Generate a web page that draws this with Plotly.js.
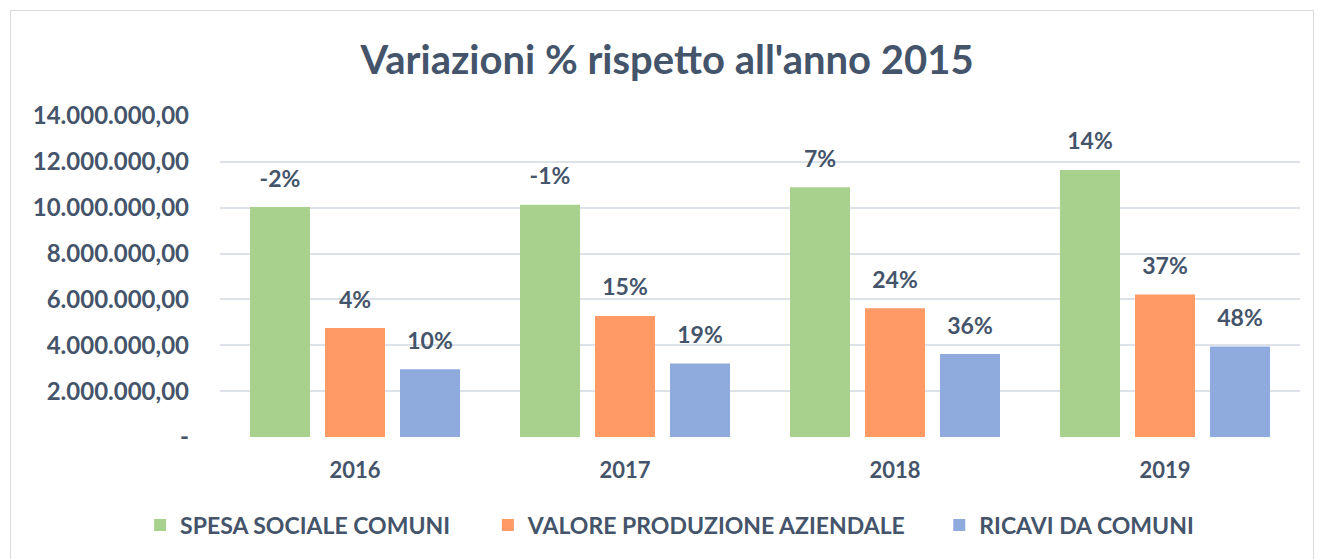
<!DOCTYPE html>
<html>
<head>
<meta charset="utf-8">
<script src="https://cdn.plot.ly/plotly-3.0.1.min.js"></script>
<style>
  html, body { margin: 0; padding: 0; background: #ffffff; }
  #wrap { position: relative; width: 1321px; height: 559px; }
  #chart { position: absolute; left: 0; top: 0; width: 1321px; height: 559px; }
  #frame { position: absolute; left: 10px; top: 10px; width: 1304px; height: 560px;
           border: 1px solid #D9D9D9; pointer-events: none; box-sizing: border-box; }
</style>
</head>
<body>
<div id="wrap">
  <div id="chart"></div>
  <div id="frame"></div>
</div>
<script>
// ---- data ----
const years = ['2016', '2017', '2018', '2019'];
const seriesNames = ['SPESA SOCIALE COMUNI', 'VALORE PRODUZIONE AZIENDALE', 'RICAVI DA COMUNI'];
const spesaSociale = [10030000, 10130000, 10890000, 11650000];
const valoreProduzione = [4750000, 5280000, 5620000, 6210000];
const ricaviComuni = [2960000, 3210000, 3620000, 3950000];
const spesaLabels = ['-2%', '-1%', '7%', '14%'];
const valoreLabels = ['4%', '15%', '24%', '37%'];
const ricaviLabels = ['10%', '19%', '36%', '48%'];
const yTickVals = [0, 2000000, 4000000, 6000000, 8000000, 10000000, 12000000, 14000000];
const yTickText = ['-', '2.000.000,00', '4.000.000,00', '6.000.000,00', '8.000.000,00', '10.000.000,00', '12.000.000,00', '14.000.000,00'];

// ---- style ----
const textColor = '#44546A';
const colors = ['#A9D18E', '#FF9966', '#8FAADC'];
const FONT = 'Lato, "Open Sans", sans-serif';
const GAP = 0.1667;

function barTrace(name, values, color, legendId, grp) {
  return {
    type: 'bar',
    name: name,
    legend: legendId,
    offsetgroup: grp,
    x: years,
    y: values,
    marker: { color: color, line: { width: 0 } },
    hoverinfo: 'x+y+name'
  };
}

function labelTrace(values, labels, grp) {
  return {
    type: 'scatter',
    mode: 'markers+text',
    offsetgroup: grp,
    x: years,
    y: values,
    text: labels,
    textposition: 'top center',
    cliponaxis: false,
    textfont: { family: FONT, size: 23, color: textColor, weight: 'bold' },
    marker: { size: 22, opacity: 0 },
    showlegend: false,
    hoverinfo: 'skip'
  };
}

const data = [
  barTrace(seriesNames[0], spesaSociale, colors[0], 'legend', 'a'),
  barTrace(seriesNames[1], valoreProduzione, colors[1], 'legend2', 'b'),
  barTrace(seriesNames[2], ricaviComuni, colors[2], 'legend3', 'c'),
  labelTrace(spesaSociale, spesaLabels, 'a'),
  labelTrace(valoreProduzione, valoreLabels, 'b'),
  labelTrace(ricaviComuni, ricaviLabels, 'c')
];

function legendAt(x) {
  return {
    orientation: 'h',
    x: x, xanchor: 'left',
    y: -0.274, yanchor: 'middle',
    font: { family: FONT, size: 23, color: textColor, weight: 'bold' },
    itemwidth: 30,
    bgcolor: 'rgba(0,0,0,0)'
  };
}

const layout = {
  width: 1321,
  height: 559,
  paper_bgcolor: '#ffffff',
  plot_bgcolor: '#ffffff',
  margin: { l: 220, r: 21, t: 116, b: 122 },
  font: { family: FONT, color: textColor },
  title: {
    text: "<b>Variazioni % rispetto all'anno 2015</b>",
    font: { family: FONT, size: 40, color: textColor },
    x: 0.505, xanchor: 'center', xref: 'container',
    y: 1 - 60 / 559, yanchor: 'middle', yref: 'container'
  },
  barmode: 'group',
  bargap: GAP,
  bargroupgap: 0.2,
  scattermode: 'group',
  scattergap: GAP,
  xaxis: {
    type: 'category',
    showgrid: false,
    zeroline: false,
    showline: false,
    ticks: '',
    tickfont: { family: FONT, size: 22, color: textColor, weight: 'bold' },
    ticklabelstandoff: 18
  },
  yaxis: {
    range: [0, 14000000],
    tickvals: yTickVals,
    ticktext: yTickText,
    showgrid: true,
    gridcolor: '#DDE1E8',
    gridwidth: 2,
    zeroline: false,
    showline: false,
    ticks: '',
    tickfont: { family: FONT, size: 24, color: textColor, weight: 'bold' },
    ticklabelstandoff: 30
  },
  legend: legendAt(-0.074),
  legend2: legendAt(0.248),
  legend3: legendAt(0.666),
  showlegend: true
};

Plotly.newPlot('chart', data, layout, { displayModeBar: false, staticPlot: true });
</script>
</body>
</html>
